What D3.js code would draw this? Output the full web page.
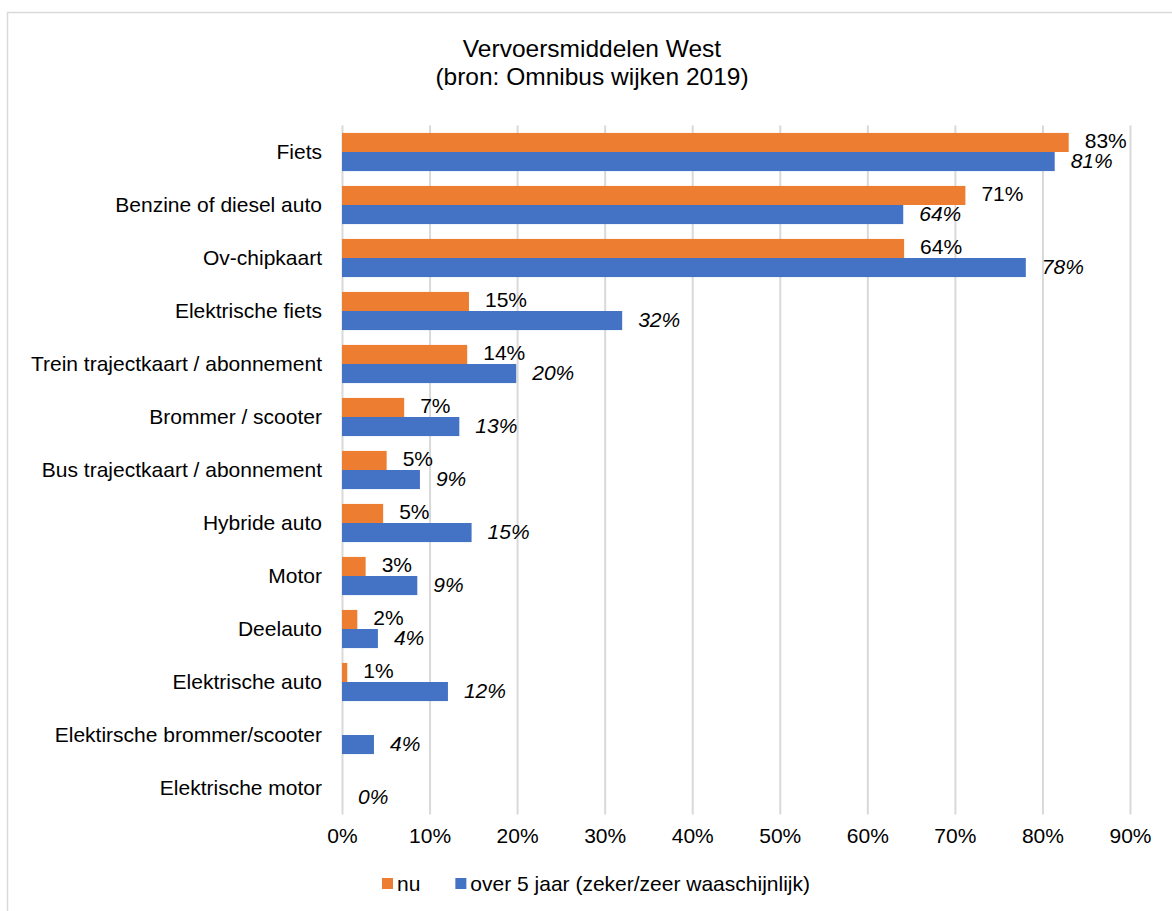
<!DOCTYPE html>
<html>
<head>
<meta charset="utf-8">
<script src="https://cdn.jsdelivr.net/npm/d3@7"></script>
<style>
  body { margin: 0; background: #fff; }
  svg { font-family: "Liberation Sans", Arial, sans-serif; }
</style>
</head>
<body>
<svg id="chart" width="1172" height="911"></svg>
<script>
// data (percent)
const categories = [
  "Fiets", "Benzine of diesel auto", "Ov-chipkaart", "Elektrische fiets",
  "Trein trajectkaart / abonnement", "Brommer / scooter",
  "Bus trajectkaart / abonnement", "Hybride auto", "Motor", "Deelauto",
  "Elektrische auto", "Elektirsche brommer/scooter", "Elektrische motor"
];
const nu = [83.0, 71.2, 64.2, 14.5, 14.3, 7.1, 5.1, 4.7, 2.7, 1.75, 0.6, null, null];
const over5 = [81.4, 64.1, 78.1, 32.0, 19.9, 13.4, 8.9, 14.8, 8.6, 4.1, 12.1, 3.65, 0];
const series = [
  { key: "nu", label: "nu", values: nu, color: "#ED7D31", italic: false, dy: "0.24em" },
  { key: "over5", label: "over 5 jaar (zeker/zeer waaschijnlijk)", values: over5, color: "#4472C4", italic: true, dy: "0.33em" }
];
const ticks = [0, 10, 20, 30, 40, 50, 60, 70, 80, 90];

const svg = d3.select("#chart");
const fs = 21;

// chart frame
svg.append("rect")
  .attr("x", 7.5).attr("y", 12.5)
  .attr("width", 1180).attr("height", 920)
  .attr("fill", "#fff").attr("stroke", "#d9d9d9").attr("stroke-width", 1.5);

// title
svg.append("text").attr("x", 592).attr("y", 57)
  .attr("text-anchor", "middle").attr("font-size", 24.5).attr("fill", "#000")
  .text("Vervoersmiddelen West");
svg.append("text").attr("x", 592).attr("y", 85)
  .attr("text-anchor", "middle").attr("font-size", 24.5).attr("fill", "#000")
  .text("(bron: Omnibus wijken 2019)");

const x = d3.scaleLinear().domain([0, 90]).range([342, 1130]);
const y = d3.scaleBand().domain(categories).range([125.5, 814.5]).paddingInner(0.28).paddingOuter(0.14);
const ySub = d3.scaleBand().domain(series.map(s => s.key)).range([0, y.bandwidth()]);

// gridlines
const xAxis = d3.axisBottom(x).tickValues(ticks).tickSize(-(814.5 - 125.5)).tickFormat(d => d + "%");
const gx = svg.append("g").attr("transform", "translate(0,814.5)").call(xAxis);
gx.select(".domain").remove();
gx.selectAll(".tick line").attr("stroke", "#d9d9d9").attr("stroke-width", 2);
gx.selectAll(".tick text").attr("font-size", fs).attr("fill", "#000")
  .attr("font-family", "'Liberation Sans', Arial, sans-serif")
  .attr("y", 28.5).attr("dy", null);

// category labels
const yAxis = d3.axisLeft(y).tickSize(0).tickPadding(20);
const gy = svg.append("g").attr("transform", "translate(342,0)").call(yAxis);
gy.select(".domain").remove();
gy.selectAll(".tick text").attr("font-size", fs).attr("fill", "#000")
  .attr("font-family", "'Liberation Sans', Arial, sans-serif");

// bars and labels
series.forEach(s => {
  const rows = categories.map((c, i) => ({ c, v: s.values[i] })).filter(d => d.v !== null);
  const g = svg.append("g");
  g.selectAll("rect")
    .data(rows)
    .join("rect")
    .attr("x", x(0))
    .attr("y", d => y(d.c) + ySub(s.key))
    .attr("width", d => x(d.v) - x(0))
    .attr("height", ySub.bandwidth())
    .attr("fill", s.color);
  g.selectAll("text")
    .data(rows)
    .join("text")
    .attr("x", d => x(d.v) + 16)
    .attr("y", d => y(d.c) + ySub(s.key) + ySub.bandwidth() / 2)
    .attr("dy", s.dy)
    .attr("font-size", fs)
    .attr("font-style", s.italic ? "italic" : "normal")
    .attr("fill", "#000")
    .text(d => Math.round(d.v) + "%");
});

// legend
const legend = svg.append("g").attr("transform", "translate(382,884)");
let lx = 0;
series.forEach(s => {
  const item = legend.append("g").attr("transform", `translate(${lx},0)`);
  item.append("rect").attr("x", 0).attr("y", -6).attr("width", 11).attr("height", 11).attr("fill", s.color);
  const t = item.append("text").attr("x", 15).attr("dy", "0.35em")
    .attr("font-size", fs).attr("fill", "#000").text(s.label);
  lx += 15 + t.node().getComputedTextLength() + 35;
});
</script>
</body>
</html>
